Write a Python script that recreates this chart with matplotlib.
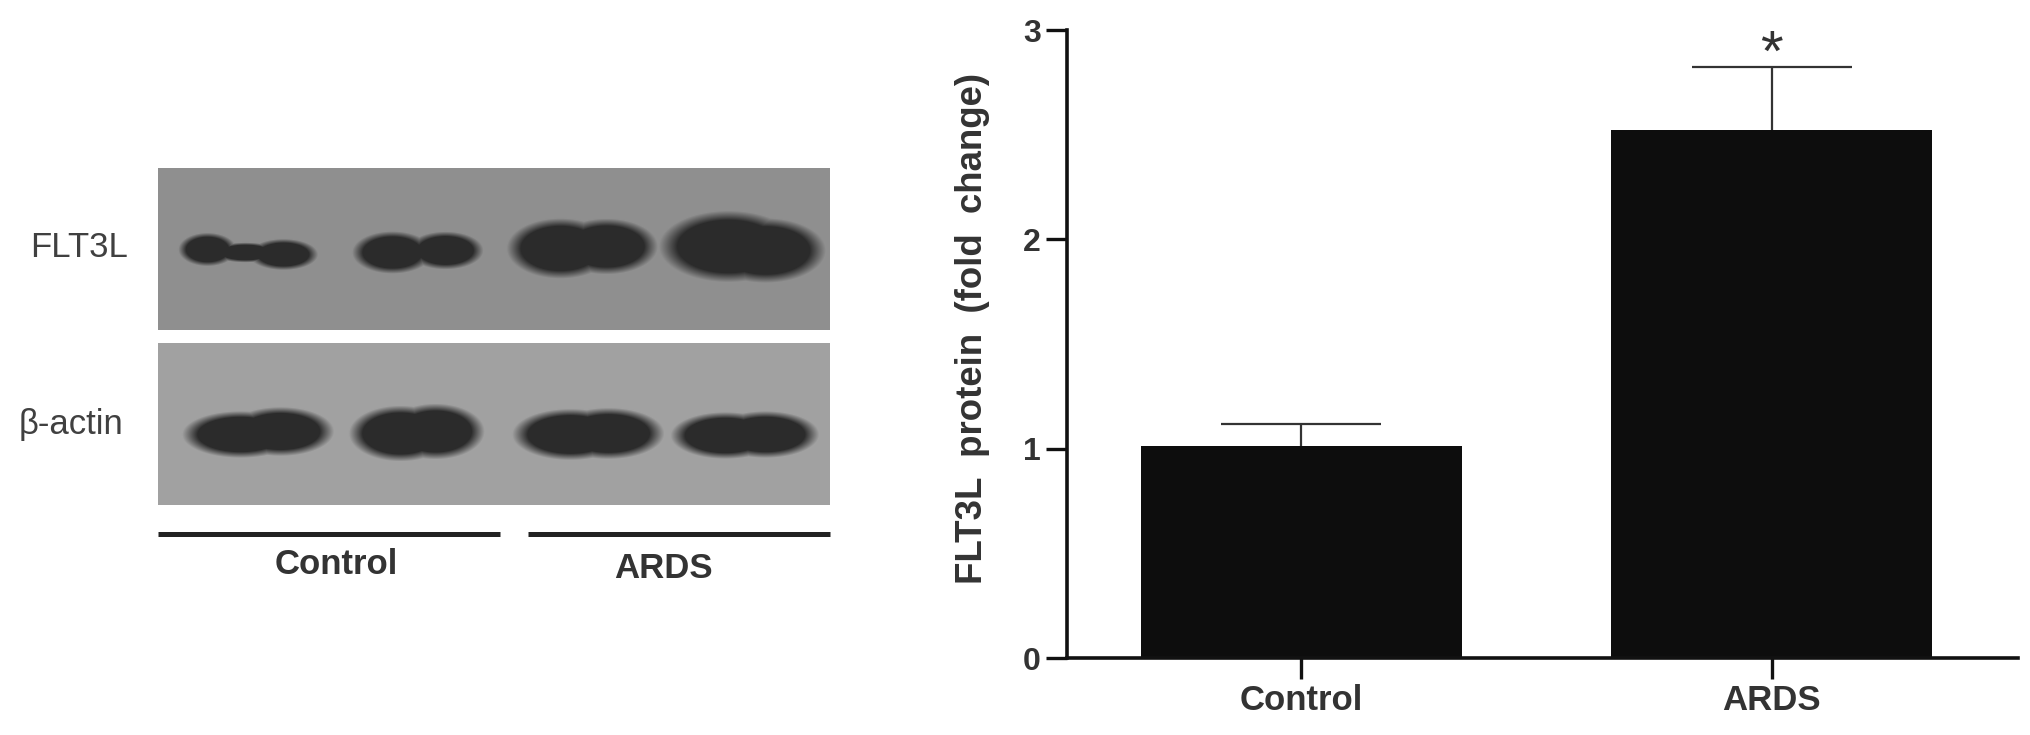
import matplotlib
matplotlib.use('Agg')
import matplotlib.pyplot as plt
import numpy as np

plt.rcParams['font.family'] = ['Liberation Sans', 'DejaVu Sans']

W, H = 2031, 735

groups = ['Control', 'ARDS']
means = [1.015, 2.52]
errors = [0.105, 0.305]
y_ticks = [0, 1, 2, 3]

# blot lobes in pixels of the figure: centre x, centre y, half width, half height
flt3l_lobes = [(207, 249, 26, 15), (283, 254, 31, 14), (245, 252, 30, 9),
               (392, 252, 36, 19), (445, 250, 34, 17),
               (560, 248, 48, 27), (606, 246, 46, 25),
               (728, 246, 62, 32), (765, 250, 54, 29)]
actin_lobes = [(240, 434, 52, 21), (280, 431, 48, 22),
               (400, 433, 46, 25), (435, 431, 44, 25),
               (570, 434, 52, 23), (608, 433, 50, 23),
               (725, 435, 49, 21), (765, 434, 48, 21)]
top_panel = (158, 830, 168, 330)
bottom_panel = (158, 830, 343, 505)
blot_labels = ['FLT3L', 'β-actin']
grey_top = 0.56
grey_bottom = 0.63
band_grey = 0.17


def blot(panel, lobes, grey):
    x0, x1, y0, y1 = panel
    xx, yy = np.meshgrid(np.arange(x0, x1), np.arange(y0, y1))
    ink = np.zeros(xx.shape)
    for cx, cy, hw, hh in lobes:
        r = np.sqrt(((xx - cx) / hw) ** 2 + ((yy - cy) / hh) ** 2)
        ink = np.maximum(ink, np.clip((1.12 - r) / 0.3, 0, 1))
    return grey + (band_grey - grey) * ink


fig = plt.figure(figsize=(W / 100, H / 100), dpi=100)

# left side drawn in figure pixels
bg = fig.add_axes([0, 0, 1, 1])
bg.axis('off')
for panel, lobes, grey in [(top_panel, flt3l_lobes, grey_top), (bottom_panel, actin_lobes, grey_bottom)]:
    bg.imshow(blot(panel, lobes, grey), extent=(panel[0], panel[1], panel[3], panel[2]),
              cmap='gray', vmin=0, vmax=1, aspect='auto', interpolation='bilinear')
bg.set_xlim(0, W)
bg.set_ylim(H, 0)
bg.text(79, 247, blot_labels[0], fontsize=25, color='#404040', ha='center', va='center')
bg.text(71, 424, blot_labels[1], fontsize=25, color='#404040', ha='center', va='center')
bg.plot([158, 500], [534, 534], color='#222222', lw=3.6, solid_capstyle='butt')
bg.plot([528, 830], [534, 534], color='#222222', lw=3.6, solid_capstyle='butt')
bg.text(336, 565, groups[0], fontsize=25, fontweight='bold', color='#333333', ha='center', va='center')
bg.text(663, 569, groups[1], fontsize=25, fontweight='bold', color='#333333', ha='center', va='center')

# bar chart
ax = fig.add_axes([1067 / W, 1 - 658 / H, (2018 - 1067) / W, (658 - 30) / H])
ax.patch.set_alpha(0)
x = np.arange(len(groups))
tops = np.array(means) + np.array(errors)
ax.bar(x, means, width=0.682, color='#0d0d0d', zorder=2)
ax.vlines(x, means, tops, color='#333333', lw=1.6, zorder=1)
ax.hlines(tops, x - 0.17, x + 0.17, color='#333333', lw=1.6, zorder=1)
ax.text(1, 2.875, '*', fontsize=42, color='#333333', ha='center', va='center')
ax.set_xlim(-0.498, 1.523)
ax.set_ylim(0, 3)
ax.set_xticks(x)
ax.set_xticklabels(groups, fontsize=25, fontweight='bold', color='#333333')
ax.set_yticks(y_ticks)
ax.set_yticklabels(y_ticks, fontsize=23, fontweight='bold', color='#333333')
ax.tick_params(axis='both', length=15, width=2.4, color='#111111', pad=4)
ax.set_ylabel('FLT3L  protein  (fold  change)', fontsize=26.4, fontweight='bold', color='#333333')
ax.yaxis.set_label_coords(-0.081, 0.525)
for side in ['top', 'right']:
    ax.spines[side].set_visible(False)
for side in ['left', 'bottom']:
    ax.spines[side].set_linewidth(2.6)
    ax.spines[side].set_color('#111111')

fig.savefig('out.png', dpi=100)
